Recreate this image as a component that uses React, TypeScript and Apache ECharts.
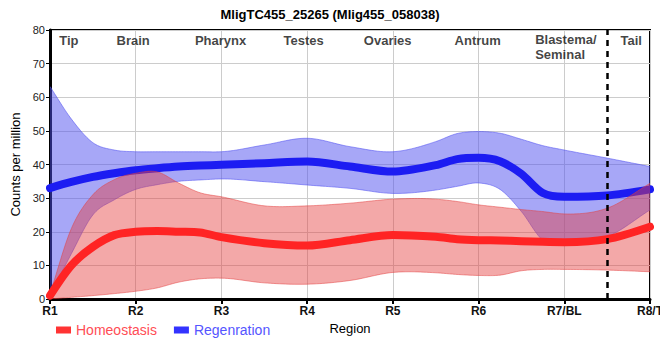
import React, { useEffect, useRef } from "react";
import * as echarts from "echarts";

const titleText = "MligTC455_25265 (Mlig455_058038)";
const regionLabels = ["R1", "R2", "R3", "R4", "R5", "R6", "R7/BL", "R8/T"];
const positions = [0, 0.25, 0.5, 0.75, 1, 1.25, 1.5, 1.75, 2, 2.5, 3, 3.5, 4, 4.5, 4.75, 5, 5.25, 5.5, 5.75, 6, 6.5, 7];

const homeoMean = [1, 10, 15.5, 19, 20, 20.2, 20, 19.8, 18.4, 16.6, 15.9, 17.5, 19, 18.5, 17.8, 17.5, 17.4, 17.2, 17, 16.9, 17.8, 21.5];
const homeoUpper = [1.5, 21, 31, 35.5, 37.4, 37.8, 34.5, 31.6, 30.4, 27.7, 27.7, 28.5, 29.7, 29.7, 29, 28, 27.3, 26.6, 26, 25.3, 27, 34.4];
const homeoLower = [0, 0.5, 1, 1.6, 2.3, 3.3, 5, 6, 6.2, 4.8, 4.4, 5.5, 7.9, 7.8, 7.3, 7, 7.1, 8.4, 8.8, 8.8, 8.6, 8.1];

const regenMean = [33, 34.8, 36.3, 37.4, 38.3, 38.9, 39.4, 39.7, 39.9, 40.4, 40.9, 39.4, 37.9, 39.8, 41.6, 42, 41, 37.2, 31.5, 30.4, 30.8, 32.6];
const regenUpper = [63.2, 53.5, 46.5, 44.3, 43.8, 43.8, 43.8, 43.8, 43.8, 45.8, 47.8, 45.3, 43.8, 46.8, 49.2, 49.8, 49.3, 47.5, 45.6, 44.3, 41.9, 39.4];
const regenLower = [1, 13.5, 25, 29.5, 32.6, 34, 35, 35.4, 35.7, 34.9, 33.9, 32.9, 31.4, 32.4, 33.5, 34.5, 32.6, 26, 17.5, 16.4, 18.5, 26.5];

const headerNames = ["Tip", "Brain", "Pharynx", "Testes", "Ovaries", "Antrum", "Blastema/\nSeminal", "Tail"];
const headerPos = [0.22, 0.97, 1.99, 2.96, 3.94, 4.99, 5.66, 6.78];
const headerAlign = ["center", "center", "center", "center", "center", "center", "left", "center"];
const dividerAt = 6.5;

const ARIAL = "'Liberation Sans', Arial, sans-serif";

// Smooth drawing geometry (cubic Hermite through the read points)
function hermite(xs: number[], ys: number[], steps = 14): number[][] {
  const n = xs.length;
  const m: number[] = new Array(n);
  for (let i = 0; i < n; i++) {
    if (i === 0) m[i] = (ys[1] - ys[0]) / (xs[1] - xs[0]);
    else if (i === n - 1) m[i] = (ys[n - 1] - ys[n - 2]) / (xs[n - 1] - xs[n - 2]);
    else {
      const h0 = xs[i] - xs[i - 1];
      const h1 = xs[i + 1] - xs[i];
      const d0 = (ys[i] - ys[i - 1]) / h0;
      const d1 = (ys[i + 1] - ys[i]) / h1;
      m[i] = (d0 * h1 + d1 * h0) / (h0 + h1);
    }
  }
  const out: number[][] = [];
  for (let i = 0; i < n - 1; i++) {
    const h = xs[i + 1] - xs[i];
    for (let s = 0; s < steps; s++) {
      const t = s / steps;
      const t2 = t * t;
      const t3 = t2 * t;
      const y =
        (2 * t3 - 3 * t2 + 1) * ys[i] +
        (t3 - 2 * t2 + t) * h * m[i] +
        (-2 * t3 + 3 * t2) * ys[i + 1] +
        (t3 - t2) * h * m[i + 1];
      out.push([xs[i] + t * h, y]);
    }
  }
  out.push([xs[n - 1], ys[n - 1]]);
  return out;
}

export default function App() {
  const ref = useRef<HTMLDivElement>(null);
  useEffect(() => {
    document.body.style.margin = "0";
    if (!ref.current) return;
    const chart = echarts.init(ref.current, null, { renderer: "svg" });

    const band = (name: string, lo: number[], up: number[], fill: string, edge: string, z: number) => ({
      name,
      type: "custom",
      z,
      silent: true,
      clip: true,
      data: positions.map((x, i) => [x, lo[i], up[i]]),
      encode: { x: 0, y: [1, 2] },
      renderItem: (params: any, api: any) => {
        if (params.dataIndex !== 0) return null;
        const upPts = hermite(positions, up).map((p) => api.coord(p));
        const loPts = hermite(positions, lo).map((p) => api.coord(p));
        return {
          type: "group",
          children: [
            { type: "polygon", shape: { points: upPts.concat(loPts.slice().reverse()) }, style: { fill, stroke: "none" } },
            { type: "polyline", shape: { points: upPts }, style: { stroke: edge, lineWidth: 1, fill: "none" } },
            { type: "polyline", shape: { points: loPts }, style: { stroke: edge, lineWidth: 1, fill: "none" } },
          ],
        };
      },
    });

    const meanLine = (name: string, vals: number[], color: string, legendColor: string, z: number, extra: any = {}) => ({
      name,
      type: "line",
      data: positions.map((x, i) => [x, vals[i]]),
      smooth: 0.3,
      symbol: "none",
      color: legendColor,
      itemStyle: { color: legendColor },
      lineStyle: { width: 8, color, cap: "round", join: "round" },
      z,
      ...extra,
    });

    chart.setOption({
      animation: false,
      title: {
        text: titleText,
        left: "center",
        top: 3,
        textStyle: { fontFamily: ARIAL, fontSize: 13, fontWeight: "bold", color: "#000" },
      },
      legend: {
        left: 56,
        top: 323,
        padding: 0,
        icon: "rect",
        itemWidth: 15,
        itemHeight: 7,
        itemGap: 17,
        textStyle: { fontFamily: ARIAL, fontSize: 14 },
        data: [
          { name: "Homeostasis", textStyle: { color: "#ff4d55" } },
          { name: "Regenration", textStyle: { color: "#5555ff" } },
        ],
      },
      grid: {
        left: 50,
        right: 10,
        top: 30,
        bottom: 61,
        show: true,
        borderColor: "#000",
        borderWidth: 2,
        containLabel: false,
        outerBoundsMode: "none",
      },
      xAxis: {
        type: "value",
        min: 0,
        max: 7,
        interval: 1,
        name: "Region",
        nameLocation: "middle",
        nameGap: 21,
        nameTextStyle: { fontFamily: ARIAL, fontSize: 13, color: "#000" },
        axisLine: { show: true, lineStyle: { color: "#000", width: 3 } },
        axisTick: { show: true, length: 5, lineStyle: { color: "#000", width: 2 } },
        axisLabel: {
          formatter: (v: number) => regionLabels[Math.round(v)] ?? "",
          fontFamily: ARIAL,
          fontSize: 12,
          fontWeight: "bold",
          color: "#111",
          margin: 6,
          hideOverlap: false,
        },
        splitLine: { show: true, lineStyle: { color: "#ccc", width: 1 } },
      },
      yAxis: {
        type: "value",
        min: 0,
        max: 80,
        interval: 10,
        name: "Counts per million",
        nameLocation: "middle",
        nameGap: 22,
        nameTextStyle: { fontFamily: ARIAL, fontSize: 13, color: "#000" },
        axisLine: { show: true, lineStyle: { color: "#000", width: 3 } },
        axisTick: { show: true, length: 4, lineStyle: { color: "#000", width: 1 } },
        axisLabel: { fontFamily: ARIAL, fontSize: 11, color: "#222", margin: 5 },
        splitLine: { show: true, lineStyle: { color: "#ccc", width: 1 } },
      },
      series: [
        band("regenBand", regenLower, regenUpper, "rgba(80,80,240,0.5)", "rgba(80,80,240,0.55)", 1),
        meanLine("Regenration", regenMean, "#1c1cf2", "#3333ff", 2),
        band("homeoBand", homeoLower, homeoUpper, "rgba(228,62,62,0.45)", "rgba(228,62,62,0.5)", 3),
        meanLine("Homeostasis", homeoMean, "#ff2424", "#ff3333", 4, {
          markLine: {
            silent: true,
            symbol: ["none", "none"],
            label: { show: false },
            lineStyle: { color: "#000", width: 2.5, type: [6, 5] },
            data: [{ xAxis: dividerAt }],
          },
        }),
        {
          name: "headers",
          type: "scatter",
          symbolSize: 0,
          silent: true,
          z: 6,
          data: headerNames.map((n, i) => ({
            value: [headerPos[i], headerAlign[i] === "left" ? 79.4 : 77],
            label: {
              show: true,
              formatter: n,
              position: [0, 0],
              align: headerAlign[i] as any,
              verticalAlign: headerAlign[i] === "left" ? "top" : "middle",
              fontFamily: ARIAL,
              fontSize: 13,
              fontWeight: "bold",
              color: "#111",
              lineHeight: 15,
            },
          })),
        },
      ],
    });
    return () => chart.dispose();
  }, []);
  return <div ref={ref} style={{ width: 660, height: 360 }} />;
}
